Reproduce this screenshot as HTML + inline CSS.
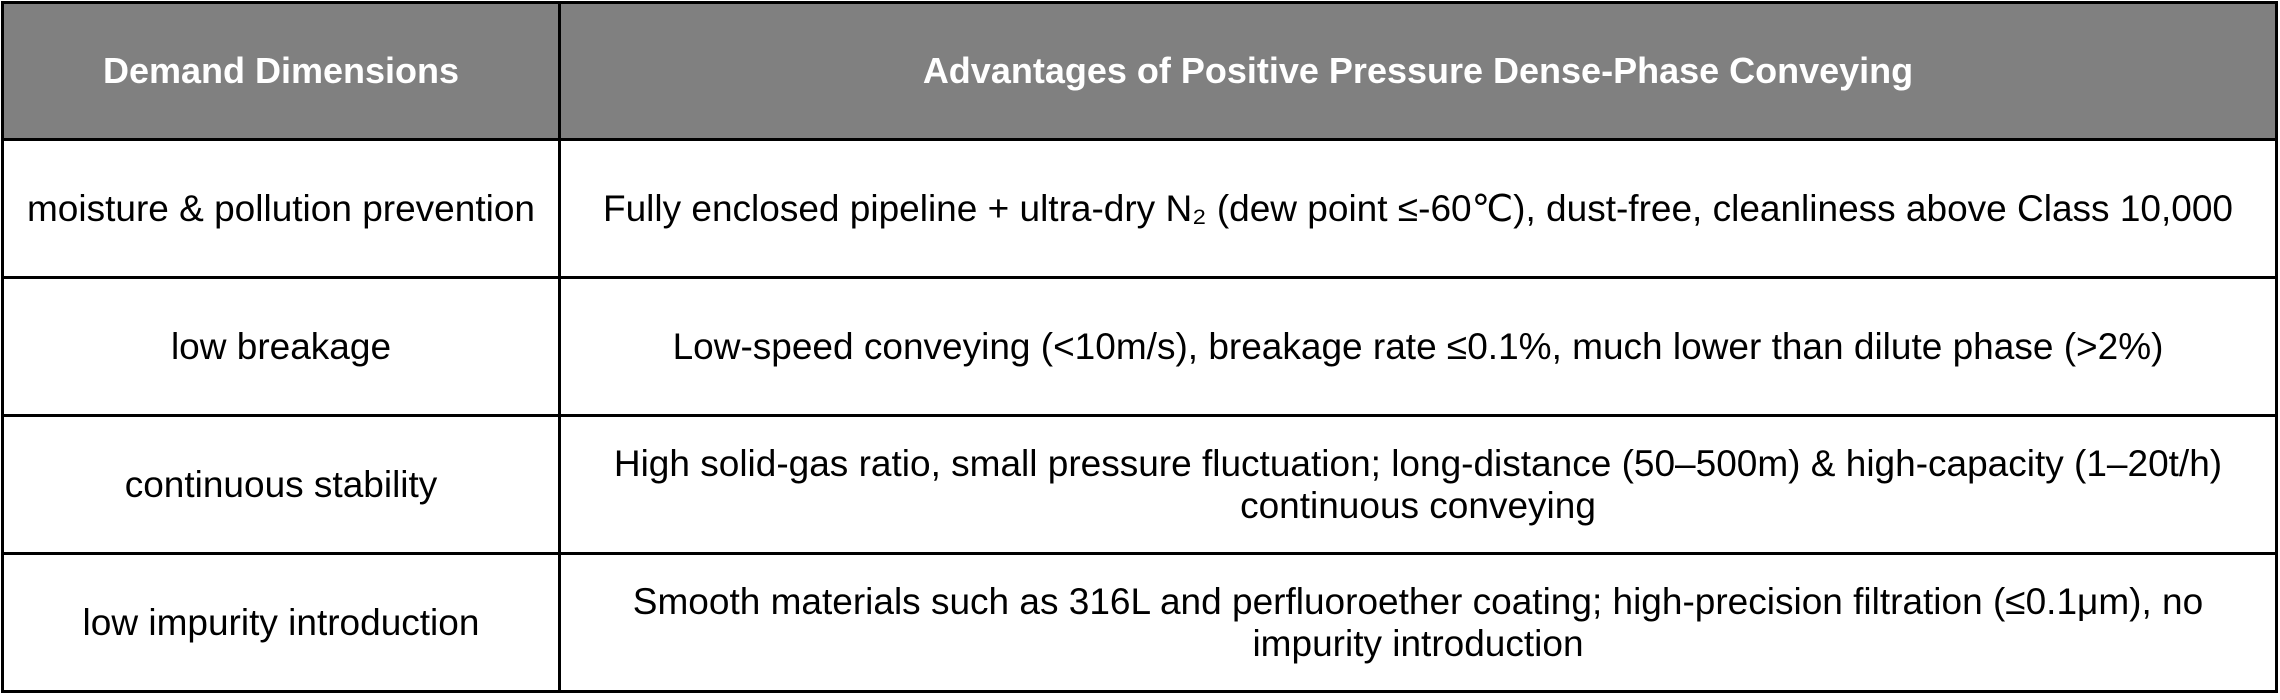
<!DOCTYPE html>
<html><head><meta charset="utf-8"><style>
html,body{margin:0;padding:0;background:#fff;}
body{width:2280px;height:700px;overflow:hidden;}
table{position:absolute;left:1px;top:1px;border-collapse:collapse;width:2277px;font-family:"Liberation Sans","DejaVu Sans",sans-serif;font-size:37px;color:#000;}
td,th{border:3px solid #000;text-align:center;vertical-align:middle;padding:0 6px;line-height:42px;}
th{background:#808080;color:#fff;font-weight:bold;height:134px;font-size:36px;}
td{height:135px;}
.c1{width:542px;}
</style></head><body>
<table>
<tr><th class="c1">Demand Dimensions</th><th>Advantages of Positive Pressure Dense-Phase Conveying</th></tr>
<tr><td>moisture &amp; pollution prevention</td><td>Fully enclosed pipeline + ultra-dry N₂ (dew point ≤-60℃), dust-free, cleanliness above Class 10,000</td></tr>
<tr><td>low breakage</td><td>Low-speed conveying (&lt;10m/s), breakage rate ≤0.1%, much lower than dilute phase (&gt;2%)</td></tr>
<tr><td>continuous stability</td><td>High solid-gas ratio, small pressure fluctuation; long-distance (50–500m) &amp; high-capacity (1–20t/h)<br>continuous conveying</td></tr>
<tr><td>low impurity introduction</td><td>Smooth materials such as 316L and perfluoroether coating; high-precision filtration (≤0.1μm), no<br>impurity introduction</td></tr>
</table>
</body></html>
